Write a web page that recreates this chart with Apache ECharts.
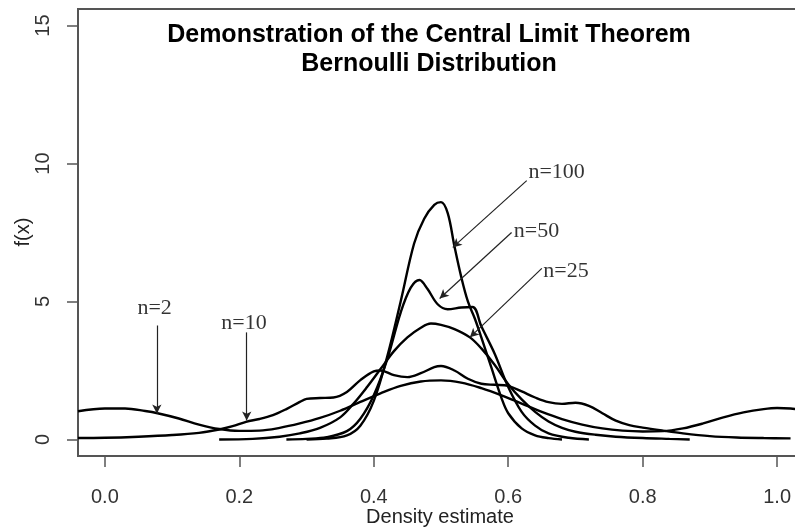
<!DOCTYPE html>
<html>
<head>
<meta charset="utf-8">
<script src="https://cdn.jsdelivr.net/npm/echarts@6/dist/echarts.min.js"></script>
<style>
  html, body { margin: 0; padding: 0; background: #fff; }
  #chart { width: 795px; height: 528px; }
</style>
</head>
<body>
<div id="chart"></div>
<script>
// tick positions
const xTicks = [0, 0.2, 0.4, 0.6, 0.8, 1.0]
const yTicks = [0, 5, 10, 15]

// density estimates, one x/y pair of arrays per sample size
const n2X = [-0.04, 0.0, 0.03, 0.06, 0.08, 0.11, 0.14, 0.17, 0.2, 0.23, 0.26, 0.29, 0.32, 0.35, 0.38, 0.41, 0.44, 0.47, 0.5, 0.53, 0.56, 0.59, 0.62, 0.65, 0.68, 0.71, 0.74, 0.77, 0.8, 0.83, 0.86, 0.89, 0.92, 0.95, 0.98, 1.0, 1.02, 1.04]
const n2Y = [1.02, 1.12, 1.12, 1.03, 0.94, 0.76, 0.54, 0.38, 0.31, 0.32, 0.42, 0.58, 0.78, 1.04, 1.36, 1.67, 1.94, 2.1, 2.14, 2.06, 1.86, 1.6, 1.3, 1.0, 0.74, 0.54, 0.4, 0.32, 0.29, 0.3, 0.4, 0.58, 0.8, 0.98, 1.1, 1.14, 1.12, 1.06]

const n10X = [-0.04, 0.0, 0.05, 0.1, 0.14, 0.17, 0.19, 0.21, 0.23, 0.25, 0.27, 0.29, 0.3, 0.32, 0.34, 0.36, 0.38, 0.4, 0.41, 0.43, 0.45, 0.47, 0.49, 0.5, 0.52, 0.54, 0.56, 0.58, 0.6, 0.62, 0.64, 0.66, 0.68, 0.7, 0.72, 0.74, 0.76, 0.78, 0.8, 0.83, 0.86, 0.9, 0.94, 0.98, 1.02]
const n10Y = [0.05, 0.06, 0.1, 0.16, 0.24, 0.36, 0.48, 0.64, 0.74, 0.88, 1.1, 1.36, 1.47, 1.5, 1.52, 1.72, 2.15, 2.47, 2.5, 2.33, 2.26, 2.4, 2.62, 2.66, 2.5, 2.2, 2.02, 1.98, 1.94, 1.74, 1.52, 1.35, 1.29, 1.33, 1.22, 0.95, 0.68, 0.52, 0.43, 0.32, 0.22, 0.12, 0.07, 0.05, 0.04]

const n25X = [0.17, 0.22, 0.26, 0.29, 0.32, 0.35, 0.37, 0.39, 0.41, 0.43, 0.45, 0.47, 0.485, 0.5, 0.52, 0.543, 0.56, 0.58, 0.6, 0.62, 0.64, 0.66, 0.68, 0.7, 0.73, 0.76, 0.8, 0.84, 0.87]
const n25Y = [0.0, 0.02, 0.1, 0.22, 0.42, 0.8, 1.3, 1.9, 2.55, 3.2, 3.7, 4.05, 4.2, 4.15, 4.0, 3.7, 3.3, 2.7, 2.0, 1.45, 1.0, 0.65, 0.42, 0.28, 0.17, 0.1, 0.05, 0.02, 0.0]

const n50X = [0.27, 0.3, 0.33, 0.36, 0.38, 0.4, 0.42, 0.44, 0.455, 0.468, 0.48, 0.495, 0.51, 0.53, 0.547, 0.56, 0.58, 0.6, 0.62, 0.64, 0.66, 0.69, 0.72]
const n50Y = [0.0, 0.02, 0.08, 0.3, 0.75, 1.6, 2.9, 4.6, 5.5, 5.78, 5.45, 4.9, 4.72, 4.78, 4.8, 4.1, 3.1, 1.9, 1.0, 0.5, 0.22, 0.06, 0.0]

const n100X = [0.3, 0.33, 0.36, 0.38, 0.4, 0.42, 0.44, 0.46, 0.475, 0.49, 0.5, 0.51, 0.52, 0.53, 0.54, 0.55, 0.56, 0.575, 0.59, 0.6, 0.62, 0.64, 0.66, 0.68]
const n100Y = [0.0, 0.03, 0.15, 0.5, 1.4, 3.0, 5.0, 7.1, 8.0, 8.5, 8.6, 8.2, 7.0, 5.9, 5.0, 4.4, 3.7, 2.6, 1.5, 0.95, 0.4, 0.15, 0.05, 0.0]

// annotation labels and arrows (data coordinates)
const noteNames = ['n=2', 'n=10', 'n=25', 'n=50', 'n=100']
const noteLabelPos = [[0.074, 4.75], [0.207, 4.2], [0.686, 6.09], [0.642, 7.54], [0.672, 9.67]]
const noteArrows = [
  [[0.0773, 4.13], [0.0773, 0.94]],
  [[0.211, 3.88], [0.211, 0.69]],
  [[0.65, 6.2], [0.543, 3.7]],
  [[0.605, 7.5], [0.498, 5.11]],
  [[0.6275, 9.38], [0.5175, 6.96]],
]

const zip = (xs, ys) => xs.map((x, i) => [x, ys[i]])

const curves = [
  ['n=2', zip(n2X, n2Y)],
  ['n=10', zip(n10X, n10Y)],
  ['n=25', zip(n25X, n25Y)],
  ['n=50', zip(n50X, n50Y)],
  ['n=100', zip(n100X, n100Y)],
]

const chart = echarts.init(document.getElementById('chart'))

const axisColor = '#555'
const sans = '"Liberation Sans", Arial, sans-serif'

const lineSeries = curves.map(([name, data]) => ({
  name,
  type: 'line',
  data,
  smooth: 0.35,
  showSymbol: false,
  symbol: 'none',
  lineStyle: { color: '#000', width: 2.4 },
  silent: true,
  z: 3,
}))

const option = {
  animation: false,
  title: {
    text: 'Demonstration of the Central Limit Theorem\nBernoulli Distribution',
    left: 424,
    top: 16,
    textAlign: 'center',
    textStyle: {
      fontFamily: sans,
      fontWeight: 'bold',
      fontSize: 25,
      lineHeight: 29,
      color: '#000',
    },
  },
  // axis titles, placed like R's mtext
  graphic: [
    {
      type: 'text',
      x: 440,
      y: 517,
      style: {
        text: 'Density estimate',
        align: 'center',
        verticalAlign: 'middle',
        font: '20px ' + sans,
        fill: '#222',
      },
    },
    {
      type: 'text',
      x: 23,
      y: 232,
      rotation: Math.PI / 2,
      style: {
        text: 'f(x)',
        align: 'center',
        verticalAlign: 'middle',
        font: '20px ' + sans,
        fill: '#222',
      },
    },
  ],
  grid: {
    left: 78,
    top: 9,
    bottom: 72,
    right: -9,
    outerBoundsMode: 'none',
    show: true,
    borderColor: axisColor,
    borderWidth: 2,
  },
  xAxis: {
    type: 'value',
    min: -0.04,
    max: 1.04,
    axisLine: { show: false, onZero: false },
    splitLine: { show: false },
    axisTick: {
      show: true,
      length: 11,
      customValues: xTicks,
      lineStyle: { color: axisColor, width: 1.5 },
    },
    axisLabel: {
      customValues: xTicks,
      margin: 31,
      fontFamily: sans,
      fontSize: 20,
      color: '#333',
      formatter: (v) => v.toFixed(1),
    },
  },
  yAxis: {
    type: 'value',
    min: -0.6,
    max: 15.6,
    axisLine: { show: false, onZero: false },
    splitLine: { show: false },
    axisTick: {
      show: true,
      length: 11,
      customValues: yTicks,
      lineStyle: { color: axisColor, width: 1.5 },
    },
    axisLabel: {
      customValues: yTicks,
      rotate: 90,
      margin: 25,
      fontFamily: sans,
      fontSize: 20,
      color: '#333',
    },
  },
  series: [
    ...lineSeries,
    {
      // arrows pointing at each curve
      type: 'line',
      data: [],
      silent: true,
      markLine: {
        silent: true,
        animation: false,
        symbol: ['none', 'arrow'],
        symbolSize: [7, 9],
        label: { show: false },
        lineStyle: { color: '#222', width: 1.2, type: 'solid' },
        data: noteArrows.map(([from, to]) => [{ coord: from }, { coord: to }]),
      },
      z: 4,
    },
    {
      type: 'scatter',
      symbolSize: 0,
      silent: true,
      data: noteLabelPos.map((p, i) => ({ value: p, name: noteNames[i] })),
      label: {
        show: true,
        position: 'inside',
        formatter: (p) => p.name,
        fontFamily: '"Liberation Serif", "Times New Roman", serif',
        fontSize: 22,
        color: '#000',
      },
      z: 5,
    },
  ],
}

chart.setOption(option)
</script>
</body>
</html>
